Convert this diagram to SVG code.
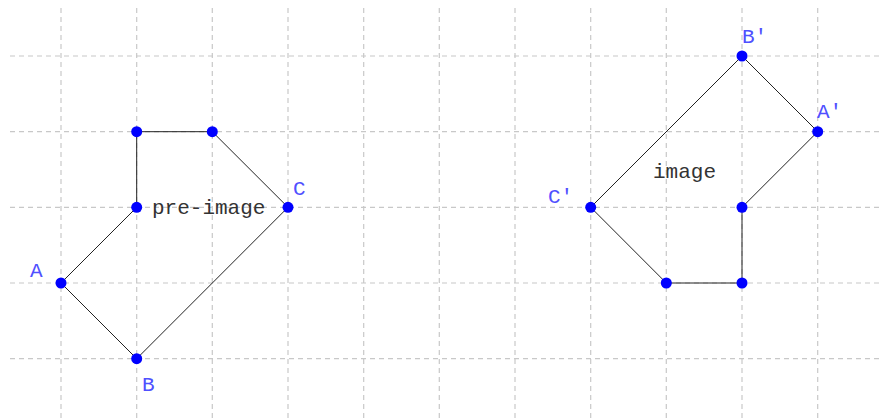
<svg xmlns="http://www.w3.org/2000/svg" width="883" height="419" viewBox="0 0 883 419">
<style>
.grid line{stroke:#c8c8c8;stroke-width:1.2;stroke-dasharray:5 4;}
.edge{stroke:#222;stroke-width:1;fill:none;}
.pt{fill:#0000ff;}
.lbl{font-family:"Liberation Mono","Courier New",monospace;font-size:21px;fill:#5050ff;}
.cap{font-family:"Liberation Mono","Courier New",monospace;font-size:21px;fill:#333;}
</style>
<rect width="883" height="419" fill="#fff"/>
<g class="grid" id="grid">
<line x1="61" y1="8" x2="61" y2="419"/>
<line x1="136.7" y1="8" x2="136.7" y2="419"/>
<line x1="212.3" y1="8" x2="212.3" y2="419"/>
<line x1="288" y1="8" x2="288" y2="419"/>
<line x1="363.7" y1="8" x2="363.7" y2="419"/>
<line x1="439.3" y1="8" x2="439.3" y2="419"/>
<line x1="515" y1="8" x2="515" y2="419"/>
<line x1="590.7" y1="8" x2="590.7" y2="419"/>
<line x1="666.3" y1="8" x2="666.3" y2="419"/>
<line x1="742" y1="8" x2="742" y2="419"/>
<line x1="817.7" y1="8" x2="817.7" y2="419"/>
<line x1="10" y1="56" x2="883" y2="56"/>
<line x1="10" y1="131.7" x2="883" y2="131.7"/>
<line x1="10" y1="207.3" x2="883" y2="207.3"/>
<line x1="10" y1="283" x2="883" y2="283"/>
<line x1="10" y1="358.7" x2="883" y2="358.7"/>
</g>
<g id="connectors">
<polygon class="edge" points="136.7,131.7 212.3,131.7 288,207.3 136.7,358.7 61,283 136.7,207.3"/>
<polygon class="edge" points="742,56 817.7,131.7 742,207.3 742,283 666.3,283 590.7,207.3"/>
</g>
<g id="preimage">
<circle class="pt" cx="136.7" cy="131.7" r="5.5"/>
<circle class="pt" cx="212.3" cy="131.7" r="5.5"/>
<circle class="pt" cx="288" cy="207.3" r="5.5"/>
<circle class="pt" cx="136.7" cy="358.7" r="5.5"/>
<circle class="pt" cx="61" cy="283" r="5.5"/>
<circle class="pt" cx="136.7" cy="207.3" r="5.5"/>
<text class="lbl" x="30" y="277">A</text>
<text class="lbl" x="142" y="391">B</text>
<text class="lbl" x="293" y="195">C</text>
<text class="cap" x="152" y="214">pre-image</text>
</g>
<g id="image">
<circle class="pt" cx="742" cy="56" r="5.5"/>
<circle class="pt" cx="817.7" cy="131.7" r="5.5"/>
<circle class="pt" cx="742" cy="207.3" r="5.5"/>
<circle class="pt" cx="742" cy="283" r="5.5"/>
<circle class="pt" cx="666.3" cy="283" r="5.5"/>
<circle class="pt" cx="590.7" cy="207.3" r="5.5"/>
<text class="lbl" x="742" y="43">B′</text>
<text class="lbl" x="817" y="118">A′</text>
<text class="lbl" x="548" y="203">C′</text>
<text class="cap" x="653" y="178">image</text>
</g>
</svg>
